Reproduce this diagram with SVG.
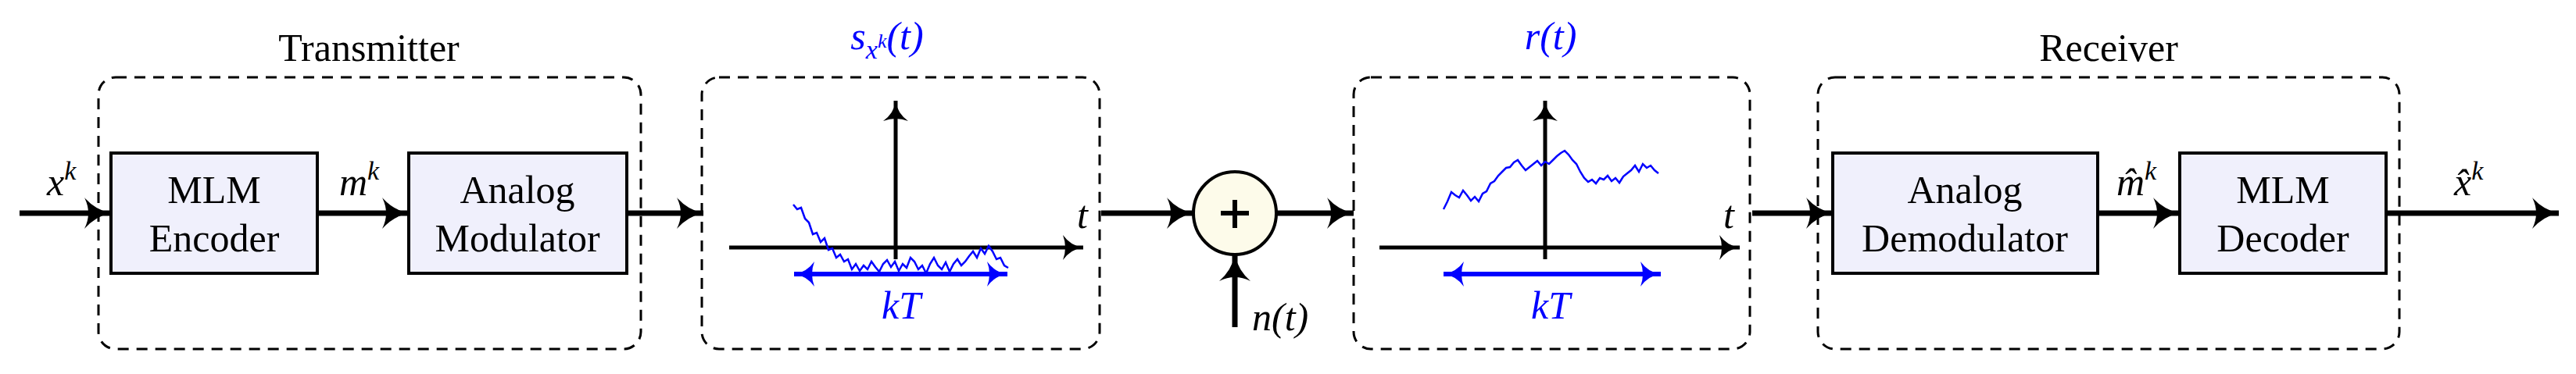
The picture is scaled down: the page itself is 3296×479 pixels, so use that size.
<svg xmlns="http://www.w3.org/2000/svg" width="3296" height="479" viewBox="0 0 3296 479" font-family="'Liberation Serif', 'DejaVu Serif', serif">
<style>
text{font-family:"Liberation Serif","DejaVu Serif",serif;font-size:50px;fill:#000}
.it{font-style:italic}
.blue{fill:#0000ff}
.grp{fill:none;stroke:#000;stroke-width:3;stroke-dasharray:14 10}
.blk{fill:#f0f0fc;stroke:#000;stroke-width:4}
.arr{fill:none;stroke:#000;stroke-width:7;marker-end:url(#ah)}
.ax{fill:none;stroke:#000;stroke-width:5}
.noise{fill:none;stroke:#0000ff;stroke-width:2.5}
.kt{fill:none;stroke:#0000ff;stroke-width:6;marker-start:url(#bs);marker-end:url(#be)}
</style>
<defs>
<marker id="ah" markerUnits="userSpaceOnUse" markerWidth="50" markerHeight="50" refX="36" refY="24" orient="auto" overflow="visible"><path d="M2,4 Q16,20 36,24 Q16,28 2,44 Q12,24 2,4 Z" fill="#000"/></marker>
<marker id="ax" markerUnits="userSpaceOnUse" markerWidth="40" markerHeight="40" refX="30" refY="20" orient="auto" overflow="visible"><path d="M4,4 Q14,18 30,20 Q14,22 4,36 Q10,20 4,4 Z" fill="#000"/></marker>
<marker id="be" markerUnits="userSpaceOnUse" markerWidth="40" markerHeight="40" refX="30" refY="20" orient="auto" overflow="visible"><path d="M4,4 Q14,18 30,20 Q14,22 4,36 Q10,20 4,4 Z" fill="#0000ff"/></marker>
<marker id="bs" markerUnits="userSpaceOnUse" markerWidth="40" markerHeight="40" refX="0" refY="20" orient="auto" overflow="visible"><path d="M26,4 Q16,18 0,20 Q16,22 26,36 Q20,20 26,4 Z" fill="#0000ff"/></marker>
</defs>

<g id="transmitter">
<rect class="grp" x="126" y="99" width="694" height="348" rx="22"/>
<text x="472" y="78" text-anchor="middle">Transmitter</text>
</g>
<g id="mlm-encoder">
<rect class="blk" x="142" y="196" width="264" height="154"/>
<text x="274" y="260" text-anchor="middle">MLM</text>
<text x="274" y="322" text-anchor="middle">Encoder</text>
</g>
<g id="analog-modulator">
<rect class="blk" x="523" y="196" width="279" height="154"/>
<text x="662" y="260" text-anchor="middle">Analog</text>
<text x="662" y="322" text-anchor="middle">Modulator</text>
</g>

<g id="tx-signal">
<rect class="grp" x="898" y="99" width="509" height="348" rx="22"/>
<text x="1135" y="63" text-anchor="middle" class="it blue">s<tspan font-size="34" dy="12">x</tspan><tspan font-size="26" dy="-14">k</tspan><tspan dy="2">(t)</tspan></text>
<path class="ax" d="M933,317 H1386" marker-end="url(#ax)"/>
<path class="ax" d="M1146,332 V129" marker-end="url(#ax)"/>
<text x="1378" y="292" class="it">t</text>
<polyline class="noise" points="1015,262 1020,268 1025,266 1030,280 1035,285 1040,300 1045,298 1050,310 1055,305 1060,320 1065,318 1070,330 1075,326 1080,335 1085,332 1090,345 1095,338 1100,347 1105,340 1110,345 1115,335 1120,342 1125,348 1130,338 1135,333 1140,342 1145,335 1150,347 1155,338 1160,343 1165,330 1170,335 1175,345 1180,340 1185,350 1190,338 1195,330 1200,340 1205,345 1210,336 1215,348 1220,338 1225,332 1230,340 1235,335 1240,328 1245,322 1250,330 1255,318 1260,325 1265,315 1270,322 1275,332 1280,330 1285,340 1290,343"/>
<path class="kt" d="M1016,351 H1289"/>
<text x="1153" y="408" text-anchor="middle" class="it blue">kT</text>
</g>

<g id="sum">
<circle cx="1580" cy="273" r="53" fill="#fdfbea" stroke="#000" stroke-width="4"/>
<path d="M1580,256 V292 M1562,273 H1598" stroke="#000" stroke-width="6"/>
<text x="1602" y="423" class="it">n(t)</text>
</g>

<g id="rx-signal">
<rect class="grp" x="1732" y="99" width="507" height="348" rx="22"/>
<text x="1984" y="63" text-anchor="middle" class="it blue">r(t)</text>
<path class="ax" d="M1765,317 H2226" marker-end="url(#ax)"/>
<path class="ax" d="M1977,332 V129" marker-end="url(#ax)"/>
<text x="2205" y="292" class="it">t</text>
<polyline class="noise" points="1847,268 1852,258 1857,246 1862,250 1867,253 1872,244 1877,250 1882,257 1887,252 1892,258 1897,248 1902,245 1907,235 1912,232 1917,225 1922,220 1927,215 1932,214 1937,208 1942,205 1947,212 1952,218 1957,214 1962,210 1967,206 1972,212 1977,207 1982,210 1987,205 1992,200 1997,196 2002,193 2007,198 2012,205 2017,210 2022,220 2027,228 2032,233 2037,230 2042,235 2047,228 2052,230 2057,225 2062,232 2067,228 2072,234 2077,226 2082,222 2087,218 2092,212 2097,220 2102,210 2107,215 2112,212 2117,218 2122,222"/>
<path class="kt" d="M1847,351 H2125"/>
<text x="1984" y="408" text-anchor="middle" class="it blue">kT</text>
</g>

<g id="receiver">
<rect class="grp" x="2326" y="99" width="744" height="348" rx="22"/>
<text x="2698" y="78" text-anchor="middle">Receiver</text>
</g>
<g id="analog-demodulator">
<rect class="blk" x="2345" y="196" width="339" height="154"/>
<text x="2514" y="260" text-anchor="middle">Analog</text>
<text x="2514" y="322" text-anchor="middle">Demodulator</text>
</g>
<g id="mlm-decoder">
<rect class="blk" x="2789" y="196" width="264" height="154"/>
<text x="2921" y="260" text-anchor="middle">MLM</text>
<text x="2921" y="322" text-anchor="middle">Decoder</text>
</g>

<g id="connectors">
<path class="arr" d="M25,273 H142"/>
<path class="arr" d="M406,273 H523"/>
<path class="arr" d="M802,273 H900"/>
<path class="arr" d="M1409,273 H1527"/>
<path class="arr" d="M1633,273 H1732"/>
<path class="arr" d="M1580,419 V326"/>
<path class="arr" d="M2242,273 H2345"/>
<path class="arr" d="M2684,273 H2789"/>
<path class="arr" d="M3053,273 H3274"/>
<text x="60" y="250" class="it">x<tspan font-size="34" dy="-20">k</tspan></text>
<text x="434" y="250" class="it">m<tspan font-size="34" dy="-20">k</tspan></text>
<text x="2708" y="250" class="it">m̂<tspan font-size="34" dy="-20">k</tspan></text>
<text x="3140" y="250" class="it">x̂<tspan font-size="34" dy="-20">k</tspan></text>
</g>
</svg>
